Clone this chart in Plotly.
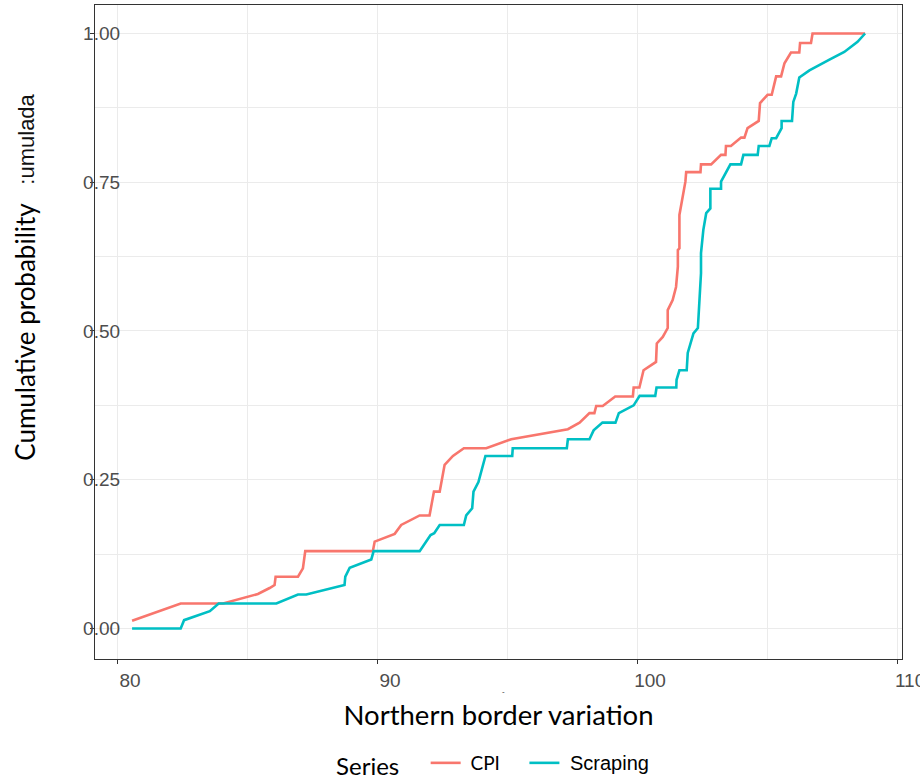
import plotly.graph_objects as go

# ---- data ----
cpi_x = [80.58, 82.45, 84.08, 85.42, 85.87, 86.06, 86.10, 86.96, 87.15, 87.24,
         89.84, 89.91, 90.68, 90.93, 91.64, 92.02, 92.19, 92.41, 92.60, 92.92,
         93.34, 94.20, 95.16, 97.34, 97.79, 98.17, 98.36, 98.43, 98.68, 99.16,
         99.84, 99.87, 100.09, 100.25, 100.73, 100.76, 100.99, 101.18, 101.18, 101.37,
         101.50, 101.57, 101.57, 101.63, 101.63, 101.86, 101.89, 102.44, 102.46, 102.85,
         103.23, 103.40, 103.42, 103.61, 104.00, 104.13, 104.25, 104.68, 104.73, 105.02,
         105.18, 105.35, 105.54, 105.67, 105.92, 106.24, 106.27, 106.69, 106.75, 108.77]
cpi_y = [0.013, 0.042, 0.042, 0.058, 0.068, 0.073, 0.087, 0.087, 0.101, 0.130,
         0.130, 0.146, 0.159, 0.174, 0.190, 0.190, 0.230, 0.230, 0.275, 0.290,
         0.303, 0.303, 0.318, 0.335, 0.346, 0.362, 0.362, 0.374, 0.374, 0.390,
         0.390, 0.405, 0.405, 0.434, 0.448, 0.479, 0.490, 0.505, 0.535, 0.552,
         0.574, 0.608, 0.636, 0.639, 0.695, 0.751, 0.767, 0.767, 0.780, 0.780,
         0.796, 0.796, 0.811, 0.811, 0.825, 0.825, 0.841, 0.853, 0.883, 0.897,
         0.897, 0.928, 0.928, 0.950, 0.968, 0.968, 0.984, 0.984, 1.000, 1.000]

scr_x = [80.58, 82.45, 82.58, 83.57, 83.91, 86.13, 86.96, 87.28, 88.75, 88.78,
         88.95, 89.78, 89.87, 91.64, 92.06, 92.20, 92.41, 93.34, 93.43, 93.66,
         93.71, 93.90, 94.17, 95.20, 95.22, 97.30, 97.34, 98.17, 98.33, 98.67,
         99.17, 99.30, 99.87, 100.10, 100.70, 100.75, 101.51, 101.52, 101.63, 101.91,
         101.95, 102.17, 102.34, 102.40, 102.46, 102.46, 102.55, 102.66, 102.82, 102.82,
         103.23, 103.23, 103.59, 104.00, 104.09, 104.64, 104.68, 105.09, 105.18, 105.35,
         105.56, 105.56, 105.96, 106.01, 106.12, 106.24, 106.63, 107.40, 107.97, 108.48,
         108.77]
scr_y = [0.000, 0.000, 0.014, 0.029, 0.042, 0.042, 0.057, 0.057, 0.073, 0.087,
         0.102, 0.116, 0.130, 0.130, 0.157, 0.160, 0.174, 0.174, 0.190, 0.202,
         0.230, 0.246, 0.290, 0.290, 0.303, 0.303, 0.318, 0.318, 0.333, 0.346,
         0.346, 0.362, 0.375, 0.391, 0.391, 0.405, 0.405, 0.418, 0.434, 0.434,
         0.463, 0.496, 0.505, 0.547, 0.597, 0.631, 0.670, 0.698, 0.706, 0.739,
         0.739, 0.751, 0.780, 0.780, 0.796, 0.796, 0.811, 0.811, 0.824, 0.824,
         0.841, 0.853, 0.853, 0.885, 0.899, 0.926, 0.938, 0.956, 0.969, 0.986,
         1.000]

x_ticks = [80, 90, 100, 110]
x_tick_labels = ["80", "90", "100", "110"]
y_ticks = [0, 0.25, 0.5, 0.75, 1.0]
y_tick_labels = ["0.00", "0.25", "0.50", "0.75", "1.00"]

series_names = ["CPI", "Scraping"]
series_colors = ["#F8766D", "#00BFC4"]

TITLE_FONT = "Lato"
TICK_FONT = "Liberation Sans"
NB = "&nbsp;"

fig = go.Figure()
fig.add_trace(go.Scatter(x=cpi_x, y=cpi_y, mode="lines",
                         name=NB + series_names[0] + NB * 4,
                         line=dict(color=series_colors[0], width=2.6)))
fig.add_trace(go.Scatter(x=scr_x, y=scr_y, mode="lines",
                         name='<span style="font-family:Liberation Sans;font-size:20px">'
                              + NB + series_names[1] + '</span>',
                         line=dict(color=series_colors[1], width=2.6)))

axis_common = dict(
    showline=True, linecolor="#333333", linewidth=1.2, mirror=True,
    showgrid=True, gridcolor="#EBEBEB", gridwidth=1.1,
    zeroline=False, ticks="outside", ticklen=4, tickcolor="#333333", tickwidth=1.1,
    tickfont=dict(family=TICK_FONT, size=19, color="#4D4D4D"),
    automargin=False, ticklabeloverflow="allow",
)

fig.update_xaxes(
    **axis_common,
    range=[79.154, 110.19],
    tickvals=x_ticks, ticktext=x_tick_labels,
    ticklabelshift=13, ticklabelstandoff=0,
    minor=dict(dtick=5, tick0=80, showgrid=True, gridcolor="#EBEBEB", gridwidth=0.8, ticks=""),
    title=dict(text="Northern border variation",
               font=dict(family=TITLE_FONT, size=27.5, color="#000000"), standoff=15),
)
fig.update_yaxes(
    **axis_common,
    range=[-0.0513, 1.0479],
    tickvals=y_ticks, ticktext=y_tick_labels,
    ticklabelstandoff=-34,
    minor=dict(dtick=0.125, tick0=0, showgrid=True, gridcolor="#EBEBEB", gridwidth=0.8, ticks=""),
    title=dict(text="Cumulative probability",
               font=dict(family=TITLE_FONT, size=26, color="#000000"), standoff=40),
)

fig.add_annotation(text=":umulada", xref="paper", yref="paper",
                   x=-0.086, y=0.795, xanchor="center", yanchor="middle",
                   textangle=-90, showarrow=False,
                   font=dict(family="Liberation Sans", size=22, color="#111111"))
fig.add_annotation(text="-", xref="paper", yref="paper",
                   x=0.506, y=-0.05, xanchor="center", yanchor="middle", showarrow=False,
                   font=dict(family="Liberation Sans", size=8, color="#333333"))

fig.update_layout(
    width=920, height=782, autosize=False,
    margin=dict(l=95, r=18, t=5, b=123),
    paper_bgcolor="white", plot_bgcolor="white",
    showlegend=True,
    legend=dict(orientation="h", x=0.2962, xanchor="left",
                yref="container", y=1 - 765 / 782, yanchor="middle",
                title=dict(text="Series" + NB * 3,
                           font=dict(family=TITLE_FONT, size=24, color="#000000")),
                font=dict(family=TITLE_FONT, size=19, color="#000000"),
                bgcolor="rgba(0,0,0,0)"),
)

fig.write_html("out.html", config={"displayModeBar": False},
               post_script="document.body.style.margin='0';")
